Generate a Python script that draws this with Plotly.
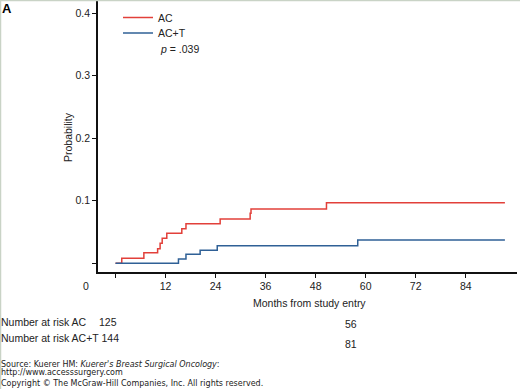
import plotly.graph_objects as go

# ---- data ----
ac_months = [0, 1.5, 6.8, 10.1, 10.7, 11.2, 12.3, 15.9, 16.9, 25.1, 32.3, 32.5, 50.6, 93.4]
ac_prob = [0, 0.008, 0.017, 0.0235, 0.032, 0.040, 0.048, 0.0555, 0.0635, 0.071, 0.080, 0.087, 0.097, 0.097]

act_months = [0, 15.1, 16.9, 20.3, 24.4, 58.1, 93.4]
act_prob = [0, 0.007, 0.0145, 0.021, 0.028, 0.0375, 0.0375]

x_ticks = [0, 12, 24, 36, 48, 60, 72, 84]
x_ticklabels = ["", "12", "24", "36", "48", "60", "72", "84"]
y_ticks = [0, 0.1, 0.2, 0.3, 0.4]
y_ticklabels = ["", "0.1", "0.2", "0.3", "0.4"]

risk_ac = ["125", "56"]
risk_act = ["144", "81"]

RED = "#e2403a"
BLUE = "#2f6096"
FONT = "Liberation Sans, Arial, sans-serif"
FS = 10.5

W, H = 520, 389
L, R, T, B = 98, 3, 0, 117
PW = W - L - R
PH = H - T - B


def px(x):
    return (x - L) / PW


def py(y):
    return (T + PH - y) / PH


fig = go.Figure()
fig.add_trace(go.Scatter(x=ac_months, y=ac_prob, mode="lines", line_shape="hv",
                         line=dict(color=RED, width=1.5), name="AC", legend="legend"))
fig.add_trace(go.Scatter(x=act_months, y=act_prob, mode="lines", line_shape="hv",
                         line=dict(color=BLUE, width=1.5), name="AC+T", legend="legend2"))

ann = []


def text(s, x, y, size=FS, xanchor="left", family=FONT, color="#222", **kw):
    ann.append(dict(text=s, x=px(x), y=py(y), xref="paper", yref="paper",
                    xanchor=xanchor, yanchor="middle", showarrow=False,
                    font=dict(size=size, family=family, color=color), **kw))


text("<b>A</b>", 0, 8, size=13, color="#000")
text("<i>p</i> = .039", 158, 48.7)
text("Probability", 67.5, 137.5, textangle=-90, xanchor="center")
text("0", 86, 285.7, xanchor="center")
text("Months from study entry", 309.5, 302.7, xanchor="center")
text("Number at risk AC", -1, 321.7)
text(risk_ac[0], 97, 321.7)
text(risk_ac[1], 351, 324, xanchor="center")
text("Number at risk AC+T " + risk_act[0], -1, 337.7)
text(risk_act[1], 351, 344, xanchor="center")
SRC = "DejaVu Sans, Verdana, sans-serif"
text("Source: Kuerer HM: <i>Kuerer's Breast Surgical Oncology</i>:", -1, 364.3, size=8, family=SRC)
text("http://www.accesssurgery.com", -1, 372.7, size=8, family=SRC)
text("Copyright \u00a9 The McGraw-Hill Companies, Inc. All rights reserved.", -1, 383, size=8, family=SRC)

shapes = [
    dict(type="line", xref="paper", yref="paper", x0=px(0.5), x1=px(0.5), y0=py(0), y1=py(H),
         line=dict(color="#c9d3c6", width=1.5)),
    dict(type="line", xref="paper", yref="paper", x0=px(0), x1=px(W), y0=py(0.5), y1=py(0.5),
         line=dict(color="#c9d3c6", width=1.5)),
]

leg_common = dict(xanchor="left", yanchor="top", bgcolor="rgba(0,0,0,0)",
                  font=dict(size=FS, family=FONT, color="#222"), itemwidth=30)

fig.update_layout(
    width=W, height=H,
    margin=dict(l=L, r=R, t=T, b=B),
    paper_bgcolor="white", plot_bgcolor="white",
    font=dict(family=FONT, size=FS, color="#222"),
    showlegend=True,
    legend=dict(x=px(118), y=py(3), **leg_common),
    legend2=dict(x=px(118), y=py(18.6), **leg_common),
    annotations=ann,
    shapes=shapes,
    xaxis=dict(range=[-4.2, 96.3], tickvals=x_ticks, ticktext=x_ticklabels,
               showline=True, linecolor="#111", linewidth=1.5, ticks="outside",
               ticklen=4, tickcolor="#111", showgrid=False, zeroline=False,
               tickfont=dict(size=FS, color="#222")),
    yaxis=dict(range=[-0.0139, 0.4213], tickvals=y_ticks, ticktext=y_ticklabels,
               showline=True, linecolor="#111", linewidth=1.5, ticks="outside",
               ticklen=4, tickcolor="#111", showgrid=False, zeroline=False,
               tickfont=dict(size=FS, color="#222")),
)

fig.write_html("out.html", config={"displayModeBar": False},
               post_script="document.body.style.margin='0';")
